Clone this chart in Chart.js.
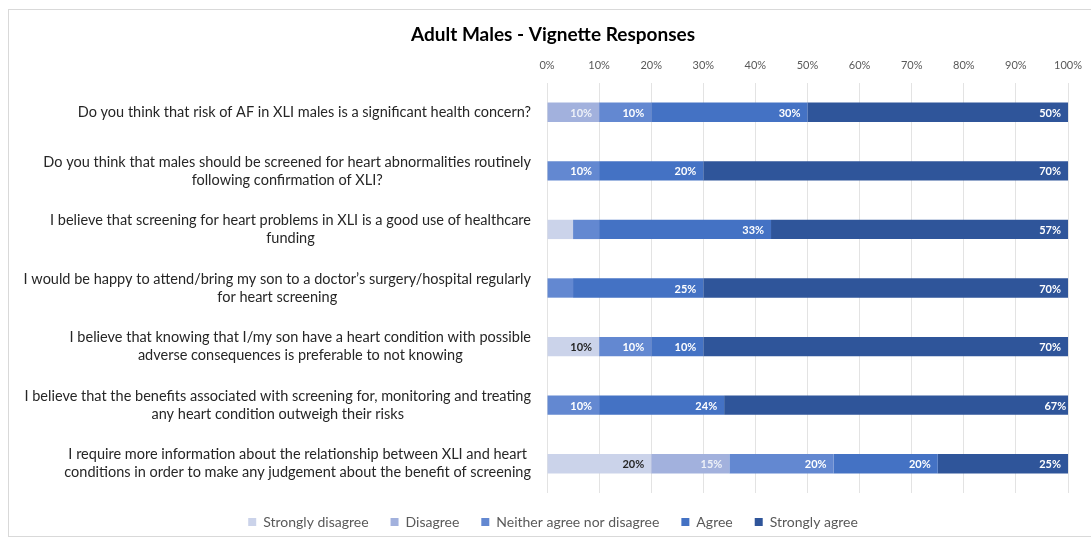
<!DOCTYPE html>
<html>
<head>
<meta charset="utf-8">
<script src="https://cdn.jsdelivr.net/npm/chart.js@4.4.0/dist/chart.umd.min.js"></script>
<style>
    html, body { margin: 0; background: #fff; overflow: hidden; }
    #wrap { position: relative; width: 1091px; height: 539px; overflow: hidden; }
    #frame { position: absolute; left: 8px; top: 9px; width: 1100px; height: 526px; border: 1px solid #d9d9d9; pointer-events: none; }
    canvas { position: absolute; left: 0; top: 0; }
</style>
</head>
<body>
<div id="wrap">
    <canvas id="chartVignette" width="1110" height="539"></canvas>
    <div id="frame"></div>
</div>
<script>
const questions = [
    ["Do you think that risk of AF in XLI males is a significant health concern?"],
    ["Do you think that males should be screened for heart abnormalities routinely", "following confirmation of XLI?"],
    ["I believe that screening for heart problems in XLI is a good use of healthcare", "funding"],
    ["I would be happy to attend/bring my son to a doctor\u2019s surgery/hospital regularly", "for heart screening"],
    ["I believe that knowing that I/my son have a heart condition with possible", "adverse consequences is preferable to not knowing"],
    ["I believe that the benefits associated with screening for, monitoring and treating", "any heart condition outweigh their risks"],
    ["I require more information about the relationship between XLI and heart", "conditions in order to make any judgement about the benefit of screening"]
];

const responseLabels = ["Strongly disagree", "Disagree", "Neither agree nor disagree", "Agree", "Strongly agree"];

const stronglyDisagree = [0, 0, 5, 0, 10, 0, 20];
const disagree = [10, 0, 0, 0, 0, 0, 15];
const neither = [10, 10, 5, 5, 10, 10, 20];
const agree = [30, 20, 33, 25, 10, 24, 20];
const stronglyAgree = [50, 70, 57, 70, 70, 67, 25];

const barColors = ["#cbd3ea", "#a2b1dd", "#6388d1", "#4472c4", "#2f559a"];
const labelColors = ["#262626", "#eef1f8", "#ffffff", "#ffffff", "#ffffff"];

const plotLeft = 547;
const plotRight = 1068;

// writes the percentage at the right end of each segment
const segmentLabels = {
    id: 'segmentLabels',
    afterDatasetsDraw(chart) {
        const ctx = chart.ctx;
        ctx.save();
        ctx.font = 'bold 11px Lato';
        ctx.textAlign = 'right';
        ctx.textBaseline = 'middle';
        chart.data.datasets.forEach(function (ds, i) {
            const meta = chart.getDatasetMeta(i);
            meta.data.forEach(function (bar, j) {
                const v = ds.data[j];
                if (v >= 10) {
                    ctx.fillStyle = labelColors[i];
                    ctx.fillText(v + '%', bar.x - 7, bar.y + 1);
                }
            });
        });
        ctx.restore();
    }
};

// question text: block right-aligned to the axis, lines centred inside the block
const questionLabels = {
    id: 'questionLabels',
    afterDraw(chart) {
        const ctx = chart.ctx;
        const yScale = chart.scales.y;
        const lineH = 18;
        ctx.save();
        ctx.font = '14.5px Lato';
        ctx.fillStyle = '#262626';
        ctx.textAlign = 'center';
        ctx.textBaseline = 'middle';
        chart.data.labels.forEach(function (lines, i) {
            const y = yScale.getPixelForTick(i);
            let w = 0;
            lines.forEach(function (t) { w = Math.max(w, ctx.measureText(t).width); });
            const cx = plotLeft - 16 - w / 2;
            const y0 = y - (lines.length - 1) * lineH / 2;
            lines.forEach(function (t, k) {
                ctx.fillText(t, cx, y0 + k * lineH);
            });
        });
        ctx.restore();
    }
};

function initChart() {
    const seriesData = [stronglyDisagree, disagree, neither, agree, stronglyAgree];
    const datasets = [];
    for (let i = 0; i < responseLabels.length; i++) {
        datasets.push({
            label: responseLabels[i],
            data: seriesData[i],
            backgroundColor: barColors[i],
            borderWidth: 0,
            categoryPercentage: 1,
            barPercentage: 0.33
        });
    }

    const padLeft = 10;
    const padRight = 14;
    const canvasW = 1110;

    new Chart(document.getElementById('chartVignette'), {
        type: 'bar',
        data: { labels: questions, datasets: datasets },
        plugins: [segmentLabels, questionLabels],
        options: {
            indexAxis: 'y',
            responsive: false,
            animation: false,
            layout: { padding: { left: padLeft, right: padRight, top: 10, bottom: 0 } },
            scales: {
                x: {
                    position: 'top',
                    stacked: true,
                    min: 0,
                    max: 100,
                    border: { display: false },
                    grid: { color: '#e3e3e3', drawTicks: false },
                    ticks: {
                        stepSize: 10,
                        padding: 11,
                        color: '#595959',
                        font: { family: 'Lato', size: 11 },
                        callback: function (v) { return v + '%'; }
                    },
                    afterFit: function (scale) {
                        // layout takes the larger of this and the layout padding
                        scale.paddingRight = canvasW - plotRight;
                    }
                },
                y: {
                    stacked: true,
                    border: { display: false },
                    grid: { display: false },
                    ticks: { display: false },
                    afterFit: function (scale) {
                        scale.width = plotLeft - padLeft;
                    }
                }
            },
            plugins: {
                title: {
                    display: true,
                    text: 'Adult Males - Vignette Responses',
                    color: '#000',
                    font: { family: 'Lato', size: 19, weight: 'bold' },
                    padding: { top: 13, bottom: 2 }
                },
                legend: {
                    position: 'bottom',
                    labels: {
                        boxWidth: 8,
                        boxHeight: 8,
                        padding: 22,
                        color: '#595959',
                        font: { family: 'Lato', size: 14 }
                    }
                },
                tooltip: { enabled: false }
            }
        }
    });
}

window.addEventListener('load', initChart);
</script>
</body>
</html>
